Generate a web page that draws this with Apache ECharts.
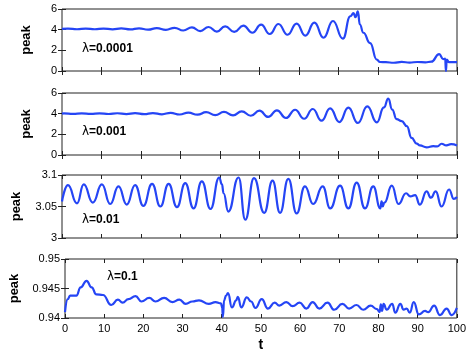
<!DOCTYPE html>
<html>
<head>
<meta charset="utf-8">
<script src="https://cdn.jsdelivr.net/npm/echarts@6/dist/echarts.min.js"></script>
<style>
  html, body { margin: 0; padding: 0; background: #fff; }
  #main { width: 469px; height: 353px; }
</style>
</head>
<body>
<div id="main"></div>
<script>
// peak(t) for the four lambda values as [t, peak]
var lambdas = ['0.0001', '0.001', '0.01', '0.1'];

var peak1 = [[0,4.07],[1.5,4.1],[3.8,4.04],[6,4.1],[8.3,4.04],[10.5,4.11],[12.8,4.03],[15,4.12],[17.3,4.02],
  [19.5,4.13],[21.8,4.0],[24,4.15],[26.3,3.98],[28.5,4.18],[30.7,3.92],[32.9,4.22],[35,3.86],[37.1,4.26],
  [39.2,3.82],[41.3,4.32],[43.6,3.78],[45.9,4.39],[48.2,3.7],[50.4,4.48],[52.6,3.58],[54.8,4.55],[57.1,3.51],
  [59.4,4.58],[61.6,3.42],[63.9,4.68],[66.2,3.22],[68.6,4.84],[71.1,3.13],[73,5.3],[73.8,5.6],[74.3,5.2],
  [74.9,5.77],[75.4,4.5],[76.3,3.7],[78,2.7],[79.7,1.1],[80.5,0.87],[82,0.85],[84,0.8],[86,0.88],[88,0.82],
  [90,0.87],[92,0.84],[93.5,0.9],[95.5,1.64],[96.5,1.15],[97,1.2],[97.2,0.0],[97.4,1.1],[98,0.85],[100,0.85]];

var peak2 = [[0,4.0],[0.5,4.02],[2.8,3.98],[5,4.02],[7.3,3.98],[9.5,4.03],[11.8,3.97],[14,4.04],[16.3,3.96],
  [18.5,4.05],[20.8,3.95],[23,4.06],[25.3,3.94],[27.5,4.08],[29.8,3.92],[32,4.1],[34.3,3.9],[36.5,4.14],
  [38.8,3.86],[41,4.17],[43.3,3.84],[45.5,4.22],[47.8,3.8],[50,4.29],[52.2,3.68],[54.4,4.32],[56.7,3.58],
  [59,4.38],[61.3,3.51],[63.5,4.45],[65.7,3.32],[67.9,4.51],[70.2,3.19],[72.5,4.58],[74.9,3.1],[77.3,4.7],
  [79.7,3.16],[81.5,4.6],[82.6,5.45],[83.6,4.4],[84.7,3.48],[86,3.27],[87.3,2.8],[88.5,1.65],[89.8,1.1],
  [90.6,0.93],[92.3,0.74],[94,0.85],[95,0.83],[96.1,1.09],[97.3,0.93],[98.5,1.05],[100,0.93]];

var peak3 = [[0,3.058],[1.5,3.084],[3.8,3.055],[5.5,3.085],[7.8,3.056],[10.1,3.085],[12.2,3.054],[14.3,3.082],
  [16.4,3.053],[18.5,3.084],[20.6,3.051],[22.8,3.086],[24.9,3.05],[27,3.086],[29.1,3.049],[31.2,3.087],
  [33.3,3.047],[35.4,3.09],[37.6,3.046],[39.8,3.096],[40.5,3.085],[40.9,3.071],[42.1,3.042],[44.7,3.096],
  [46.4,3.029],[48.6,3.095],[51.2,3.04],[53.3,3.091],[55.2,3.04],[57.3,3.094],[59.4,3.039],[61.5,3.082],
  [63.6,3.054],[66,3.082],[67.9,3.047],[70.4,3.083],[72.5,3.047],[74.6,3.088],[76.7,3.047],[78.8,3.082],
  [80.6,3.047],[80.9,3.058],[81.2,3.05],[81.6,3.056],[83.5,3.083],[85.2,3.054],[87.1,3.071],[88.2,3.066],
  [89.4,3.068],[90.6,3.053],[92.3,3.074],[93.4,3.064],[94.6,3.074],[96.1,3.05],[98,3.077],[99.2,3.062],[100,3.065]];

var peak4 = [[0,0.941],[0.7,0.9432],[1.3,0.9438],[2.9,0.9438],[4,0.9452],[5.5,0.9463],[6.8,0.9452],[8,0.944],
  [9.7,0.9439],[11.8,0.9422],[13.5,0.9431],[14.7,0.9426],[16.2,0.9432],[18,0.9437],[19.5,0.9428],[21.5,0.9434],
  [23.1,0.9428],[25.3,0.9434],[27.4,0.9427],[29.2,0.9431],[30.8,0.9424],[32.5,0.9428],[34.2,0.943],[36.7,0.9424],
  [38.4,0.9427],[39.8,0.9425],[40.1,0.9418],[40.3,0.9402],[40.6,0.943],[41.1,0.9438],[41.6,0.9442],[42.6,0.9418],
  [43.7,0.943],[44.1,0.9436],[45,0.9418],[46.4,0.9435],[47.5,0.9428],[48.6,0.9417],[50.2,0.9432],[51.8,0.9416],
  [53.5,0.9426],[54.7,0.9421],[56.5,0.9427],[58.1,0.942],[59.9,0.9426],[61.6,0.9416],[63.2,0.9427],[64.9,0.9416],
  [67,0.9426],[68.7,0.9414],[70.8,0.9424],[72.5,0.9416],[74.4,0.9422],[76.1,0.9414],[78,0.9421],[79.6,0.9415],
  [80.3,0.941],[80.6,0.9423],[80.9,0.9412],[81.3,0.9424],[82.1,0.9414],[83.5,0.9424],[84.3,0.9409],[85.6,0.9424],
  [86.4,0.9414],[87.2,0.9416],[88,0.9409],[89,0.9427],[90.3,0.9406],[91.9,0.9412],[92.7,0.941],[94.2,0.9421],
  [95.7,0.9405],[97.4,0.9416],[98.7,0.9405],[100,0.9417]];

var yRanges = [[0, 6, 2], [0, 6, 2], [3, 3.1, 0.05], [0.94, 0.95, 0.005]];
var xTicks = [0, 100, 10];

var allData = [peak1, peak2, peak3, peak4];
var FONT = 'Liberation Sans, Arial, sans-serif';
var BLUE = '#2545f5';

var gridTops = [9, 93, 175, 259];
var gridHeights = [62, 62, 63, 62];
var nameGaps = [29, 29, 39, 44];
var labelPos = [[82, 50], [82, 133], [82, 221], [107, 278]];

var grids = [], xAxes = [], yAxes = [], series = [], graphics = [];

for (var i = 0; i < 4; i++) {
  grids.push({
    left: 62, right: 12, top: gridTops[i], height: gridHeights[i],
    show: true, borderColor: '#222', borderWidth: 1, backgroundColor: '#fff'
  });
  var isLast = i === 3;
  // bottom x axis
  xAxes.push({
    type: 'value', gridIndex: i, position: 'bottom',
    min: xTicks[0], max: xTicks[1], interval: xTicks[2],
    axisLine: { show: false },
    axisTick: { show: true, inside: true, length: 4, lineStyle: { color: '#222' } },
    axisLabel: { show: isLast, color: '#000', fontSize: 11, fontFamily: FONT, margin: 5 },
    splitLine: { show: false },
    name: isLast ? 't' : '', nameLocation: 'middle', nameGap: 20,
    nameTextStyle: { color: '#000', fontSize: 14, fontWeight: 'bold', fontFamily: FONT }
  });
  // top x axis (ticks only)
  xAxes.push({
    type: 'value', gridIndex: i, position: 'top',
    min: xTicks[0], max: xTicks[1], interval: xTicks[2],
    axisLine: { show: false },
    axisTick: { show: true, inside: true, length: 4, lineStyle: { color: '#222' } },
    axisLabel: { show: false }, splitLine: { show: false }
  });
  var r = yRanges[i];
  yAxes.push({
    type: 'value', gridIndex: i, position: 'left',
    min: r[0], max: r[1], interval: r[2],
    axisLine: { show: false },
    axisTick: { show: true, inside: true, length: 4, lineStyle: { color: '#222' } },
    axisLabel: { color: '#000', fontSize: 11, fontFamily: FONT, margin: 5 },
    splitLine: { show: false },
    name: 'peak', nameLocation: 'middle', nameGap: nameGaps[i], nameRotate: 90,
    nameTextStyle: { color: '#000', fontSize: 13, fontWeight: 'bold', fontFamily: FONT }
  });
  yAxes.push({
    type: 'value', gridIndex: i, position: 'right',
    min: r[0], max: r[1], interval: r[2],
    axisLine: { show: false },
    axisTick: { show: true, inside: true, length: 4, lineStyle: { color: '#222' } },
    axisLabel: { show: false }, splitLine: { show: false }
  });
  series.push({
    type: 'line', xAxisIndex: i * 2, yAxisIndex: i * 2,
    data: allData[i], showSymbol: false, smooth: 0.5, smoothMonotone: 'x',
    clip: true,
    lineStyle: { color: BLUE, width: 2.2 }
  });
  graphics.push({
    type: 'text', left: labelPos[i][0], top: labelPos[i][1] - 7,
    style: {
      text: '{a|λ}{b|=' + lambdas[i] + '}',
      rich: {
        a: { fontSize: 12, fontFamily: 'DejaVu Sans, sans-serif', fill: '#000' },
        b: { fontSize: 12, fontWeight: 'bold', fontFamily: FONT, fill: '#000' }
      }
    }
  });
}

var myChart = echarts.init(document.getElementById('main'));
myChart.setOption({
  backgroundColor: '#fff',
  animation: false,
  grid: grids,
  xAxis: xAxes,
  yAxis: yAxes,
  series: series,
  graphic: graphics
});
</script>
</body>
</html>
